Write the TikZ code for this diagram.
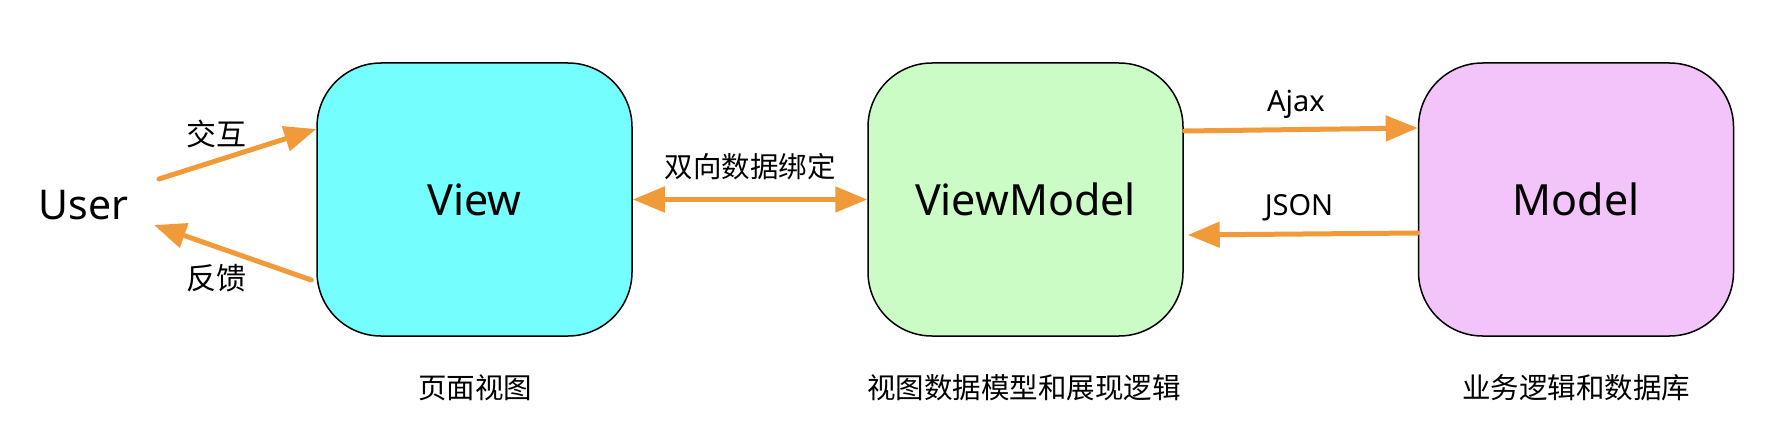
\documentclass[tikz,border=0pt]{standalone}
\usepackage{fontspec}
\setmainfont{Noto Sans}
\newfontfamily\cjk{Noto Sans CJK SC}
\usetikzlibrary{arrows.meta}
\definecolor{viewfill}{HTML}{74FEFD}
\definecolor{vmfill}{HTML}{CCFCC5}
\definecolor{modelfill}{HTML}{F3C4F9}
\definecolor{arrowc}{HTML}{F09A3A}
\tikzset{
  box/.style={draw=black, line width=1.5pt, rounded corners=64pt,
    minimum width=315pt, minimum height=273pt, inner sep=0pt,
    font=\fontsize{43}{50}\selectfont},
  flow/.style={draw=arrowc, line width=5pt, line cap=round,
    -{Triangle[length=32pt,width=25pt]}},
  both/.style={draw=arrowc, line width=5pt,
    {Triangle[length=32pt,width=25pt]}-{Triangle[length=32pt,width=25pt]}},
  cn/.style={font=\cjk\fontsize{28.5}{34}\selectfont, inner sep=0pt},
  cnbig/.style={font=\cjk\fontsize{30}{35}\selectfont, inner sep=0pt},
  lat/.style={font=\fontsize{29}{34}\selectfont, inner sep=0pt, anchor=base},
}
\begin{document}
\begin{tikzpicture}[x=1pt,y=-1pt]
\useasboundingbox (0,0) rectangle (1784,428);
\node[box, fill=viewfill] (view) at (474.5,199.5) {View};
\node[box, fill=vmfill] (vm) at (1025.5,199.5) {ViewModel};
\node[box, fill=modelfill] (model) at (1576,199.5) {Model};
\node[font=\fontsize{41}{48}\selectfont, inner sep=0pt, anchor=base] (user) at (83.5,219) {User};
\node[cn] (lview) at (475,388) {页面视图};
\node[cn] (lvm) at (1024,388) {视图数据模型和展现逻辑};
\node[cn] (lmodel) at (1576,388) {业务逻辑和数据库};
\coordinate (ustart) at (159,179);
\coordinate (uend) at (154,225);
\draw[flow] (ustart) -- ([yshift=70.5pt]view.west);
\draw[flow] ([xshift=-5pt,yshift=-80.5pt]view.west) -- (uend);
\node[cnbig] (linter) at (216,134) {交互};
\node[cnbig] (lfeed) at (216,278) {反馈};
\draw[both] (view.east) -- (vm.west);
\node[cn] (lbind) at (750,167) {双向数据绑定};
\draw[flow] ([xshift=1pt,yshift=68.5pt]vm.east) -- ([yshift=71.5pt]model.west);
\draw[flow] ([yshift=-33.5pt]model.west) -- ([xshift=4pt,yshift=-35.5pt]vm.east);
\node[lat] (lajax) at (1296,111) {Ajax};
\node[lat] (ljson) at (1299,215) {JSON};
\end{tikzpicture}
\end{document}
